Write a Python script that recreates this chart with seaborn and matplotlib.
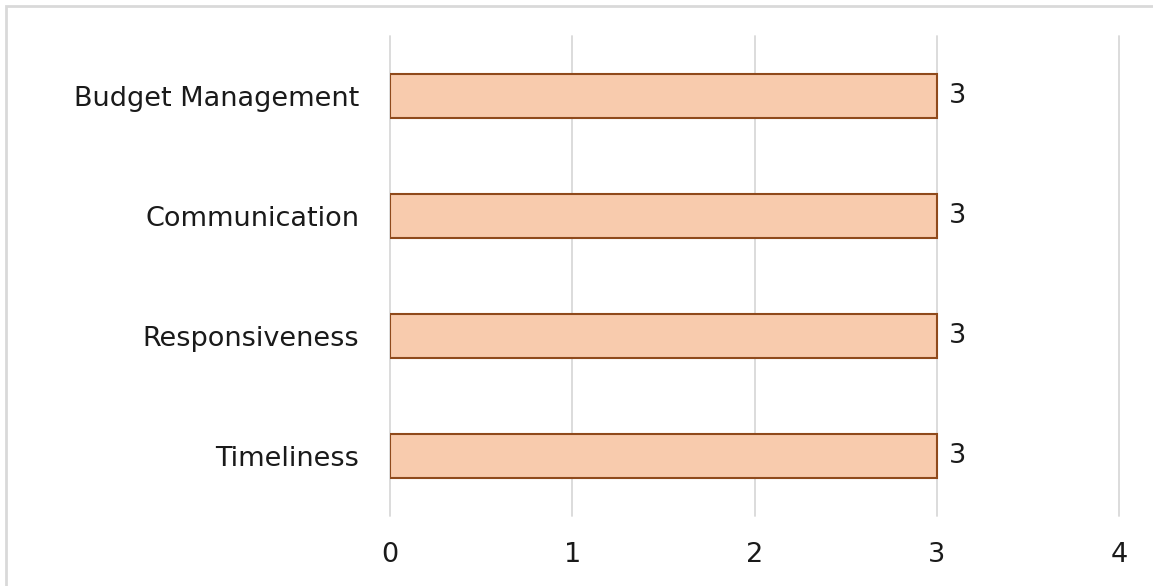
import matplotlib
matplotlib.use("Agg")
import matplotlib.pyplot as plt
import matplotlib.patches as mpatches
import seaborn as sns
import pandas as pd

categories = ["Budget Management", "Communication", "Responsiveness", "Timeliness"]
scores = [3, 3, 3, 3]
x_ticks = [0, 1, 2, 3, 4]

sns.set_theme(style="white")
plt.rcParams["font.family"] = ["DejaVu Sans"]

W, H, DPI = 1153, 586, 100
FS = 19.5
fig = plt.figure(figsize=(W / DPI, H / DPI), dpi=DPI)
ax = fig.add_axes([390 / W, 1 - 516 / H, (1119 - 390) / W, (516 - 36) / H])

df = pd.DataFrame({"category": categories, "score": scores})
sns.barplot(data=df, y="category", x="score", orient="h", ax=ax,
            color="#F8CBAD", edgecolor="#8F4A1C", linewidth=1.5,
            width=0.37, saturation=1)

ax.set_xlim(0, 4)
ax.set_ylim(3.5, -0.5)
ax.set_xticks(x_ticks)
ax.set_xticklabels([str(t) for t in x_ticks])
ax.xaxis.grid(True, color="#D9D9D9", linewidth=1.3)
for gl in ax.get_xgridlines():
    gl.set_clip_on(False)
ax.yaxis.grid(False)
ax.set_axisbelow(True)
for s in ax.spines.values():
    s.set_visible(False)
ax.set_xlabel("")
ax.set_ylabel("")
ax.tick_params(axis="x", length=0, pad=19, labelsize=FS, labelcolor="#1a1a1a")
ax.tick_params(axis="y", length=0, pad=22, labelsize=FS, labelcolor="#1a1a1a")

for i, v in enumerate(scores):
    ax.annotate(str(v), xy=(v, i), xytext=(9, 0), textcoords="offset points",
                ha="left", va="center", fontsize=FS, color="#1a1a1a")

# outer chart frame
frame = mpatches.Rectangle((5.5 / W, -0.05), 1.2, 1 - 6.5 / H + 0.05,
                           transform=fig.transFigure, fill=False,
                           edgecolor="#D9D9D9", linewidth=2, clip_on=True)
fig.patches.append(frame)

fig.savefig("out.png", dpi=DPI)
